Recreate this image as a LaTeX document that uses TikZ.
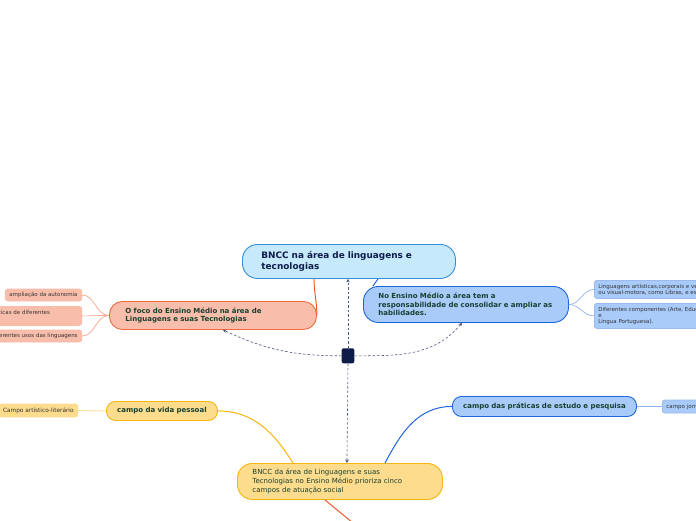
\documentclass[tikz,border=0pt]{standalone}
\usepackage{fontspec}
\setmainfont{DejaVu Sans}
\usetikzlibrary{arrows.meta,positioning,calc}
\definecolor{psky}{HTML}{C6E9FB}
\definecolor{pskyd}{HTML}{3A8ED6}
\definecolor{psalmon}{HTML}{F9BEAB}
\definecolor{psalmond}{HTML}{EF6A3F}
\definecolor{pblue}{HTML}{A9CBFA}
\definecolor{pblued}{HTML}{1F66D8}
\definecolor{pyellow}{HTML}{FDDC8E}
\definecolor{pyellowd}{HTML}{F5B50F}
\definecolor{dtext}{HTML}{17402F}
\definecolor{dnavy}{HTML}{0D1C48}
\definecolor{dlink}{HTML}{4B587A}
\definecolor{dorange}{HTML}{EE5A2C}
\definecolor{tsalmon}{HTML}{F7A58C}
\definecolor{tblue}{HTML}{8FB5F0}
\definecolor{tyellow}{HTML}{FBE3A0}
\tikzset{
  % Pill-shaped topic with a darker stroke of the same hue.
  topic/.style  = {rectangle, rounded corners=13pt, draw=#1d, fill=#1, line width=0.9pt,
                   align=left, inner ysep=0pt, text=dtext, anchor=north west,
                   font=\fontsize{7}{8.7}\selectfont\bfseries},
  leaf/.style   = {rectangle, rounded corners=2.5pt, draw=#1d!45, fill=#1, line width=0.8pt,
                   align=left, inner xsep=4pt, inner ysep=1pt, text=black!80,
                   font=\fontsize{5.5}{6}\selectfont},
  hub/.style    = {rectangle, rounded corners=2pt, fill=dnavy, minimum width=12.6pt,
                   minimum height=15pt, inner sep=0pt},
  link/.style   = {dash pattern=on 2.5pt off 2pt, dlink, line width=0.6pt,
                   -{Stealth[length=3.5pt,width=3.5pt]}},
  branch/.style = {line width=1pt, #1},
  twig/.style   = {line width=0.7pt, #1},
}

\begin{document}
\begin{tikzpicture}[x=1pt,y=1pt]
\useasboundingbox (0,0) rectangle (696,-520);

% ---- central topics -------------------------------------------------
\node[topic=psky, text=dnavy, rounded corners=15pt, inner xsep=19pt, text width=175pt,
      minimum height=34pt, font=\fontsize{8.9}{11}\selectfont\bfseries]
      (root) at (242,-244) {BNCC na área de linguagens e\\tecnologias};
\node[topic=psalmon, inner xsep=16pt, text width=175pt, minimum height=28pt]
      (foco) at (109,-301) {O foco do Ensino Médio na  área de\\Linguagens e suas Tecnologias};
\node[topic=pblue, rounded corners=15pt, inner xsep=15pt, text width=175pt, minimum height=36pt,
      font=\fontsize{7}{8.5}\selectfont\bfseries]
      (alvo) at (363,-286) {No Ensino Médio a área tem a\\responsabilidade de consolidar e ampliar as\\habilidades.};
\node[topic=pyellow, rounded corners=15pt, inner xsep=15pt, text width=175pt, minimum height=36pt,
      font=\fontsize{7}{9}\selectfont]
      (campos) at (237,-463) {BNCC da área de Linguagens e suas\\Tecnologias no Ensino Médio prioriza cinco\\campos de atuação social};
\node[hub] (hub) at (348,-355.8) {};

% ---- campos ---------------------------------------------------------
\node[topic=pyellow, rounded corners=9pt, inner xsep=4pt, text width=103pt, align=center,
      minimum height=19pt] (vida) at (106,-401) {campo da vida pessoal};
\node[topic=pblue, rounded corners=9pt, inner xsep=4pt, text width=176pt, align=center,
      minimum height=20pt] (praticas) at (452,-396) {campo das práticas de estudo e pesquisa};

% ---- leaves ---------------------------------------------------------
\node[leaf=psalmon, anchor=east, minimum height=12pt] (autonomia) at (82,-295)
      {ampliação da autonomia};
\node[leaf=psalmon, anchor=north east, text width=166pt, minimum height=19pt] (autoria) at (82,-306)
      {protagonismo e autoria nas práticas de diferentes\\linguagens};
\node[leaf=psalmon, anchor=east, minimum height=12pt] (usos) at (82,-336)
      {compreensão dos diferentes usos das linguagens};
\node[leaf=pblue, anchor=north west, minimum height=18pt] (linguagens) at (594,-280)
      {Linguagens  artísticas,corporais e verbais\\ou visual-motora, como Libras, e escrita};
\node[leaf=pblue, anchor=north west, minimum height=25pt] (componentes) at (594,-303)
      {Diferentes componentes (Arte, Educação Física,\\e\\Língua Portuguesa).};
\node[leaf=pyellow, anchor=east, minimum height=13pt, font=\fontsize{5.8}{6}\selectfont]
      (artistico) at (78,-410.5) {Campo artístico-literário};
\node[leaf=pblue, anchor=west, minimum height=13pt] (jornal) at (662,-406.5)
      {campo jornalístico-midiático};
\coordinate (baixo) at (353,-523);

% ---- branches -------------------------------------------------------
\draw[branch=dorange] (foco.east) to[out=90,in=-90] ([xshift=72pt]root.south west);
\draw[branch=pblued] ([xshift=136pt]root.south west) to[out=-105,in=75] ([xshift=10pt]alvo.north west);
\draw[branch=pyellowd] (vida.east) to[out=0,in=122] ([xshift=56pt]campos.north west);
\draw[branch=pblued] ([xshift=148pt]campos.north west) to[out=62,in=180] (praticas.west);
\draw[branch=dorange] ([xshift=88pt]campos.south west) -- (baixo);

% ---- twigs ----------------------------------------------------------
\foreach \t in {autonomia, autoria, usos}
  \draw[twig=tsalmon] (foco.west) to[out=180,in=0] (\t.east);
\foreach \t in {linguagens, componentes}
  \draw[twig=tblue] (alvo.east) to[out=0,in=180] (\t.west);
\draw[twig=tyellow, line width=1pt] (vida.west) -- (artistico.east);
\draw[twig=tblue] (praticas.east) -- (jornal.west);

% ---- relations from the hub ----------------------------------------
\draw[link] (hub.north) -- (hub.north |- root.south);
\draw[link] (hub.south) -- ([xshift=7pt]campos.north);
\draw[link] (hub.west) to[out=180,in=-25] ([xshift=10pt]foco.south);
\draw[link] (hub.east) to[out=0,in=-130] ([xshift=-4pt]alvo.south);
\end{tikzpicture}
\end{document}
